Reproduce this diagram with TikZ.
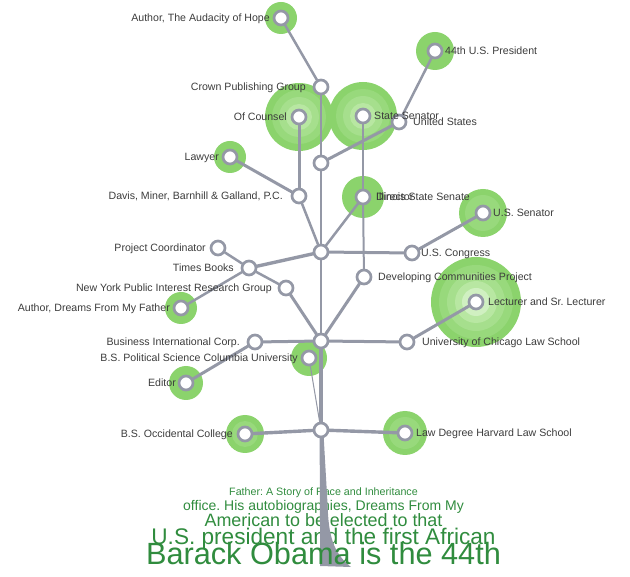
\documentclass[tikz,border=0pt]{standalone}
\usepackage{fontspec}
\setmainfont{Liberation Sans}
\usetikzlibrary{calc}
\pgfdeclarelayer{bg}
\pgfsetlayers{bg,main}
\frenchspacing
\definecolor{edgegray}{RGB}{148,152,166}
\definecolor{lblgray}{RGB}{60,60,60}
\definecolor{txtgreen}{RGB}{48,140,62}
\definecolor{haloA}{RGB}{139,211,108}
\definecolor{haloB}{RGB}{152,217,124}
\definecolor{haloC}{RGB}{166,223,141}
\definecolor{haloD}{RGB}{184,231,162}
\definecolor{haloE}{RGB}{208,240,193}
\tikzset{
  dot/.style={circle, draw=edgegray, fill=white, line width=2.7pt, minimum size=14pt, inner sep=0pt},
  lbl/.style={text=lblgray, inner sep=0pt, font=\fontsize{10.6}{12}\selectfont},
  lblL/.style={lbl, anchor=base east},
  lblR/.style={lbl, anchor=base west},
  ew/.style={draw=edgegray, line width=#1, line cap=round},
  big/.style={text=txtgreen, inner sep=0pt, anchor=base, font=\fontsize{#1}{#1}\selectfont}
}
\begin{document}
\begin{tikzpicture}[x=1pt,y=-1pt]
\useasboundingbox (0,0) rectangle (630,577);
% bottom text (lines under the trunk)
\node[big=10.7] (t1) at (323.5,496) {Father: A Story of Race and Inheritance};
\node[big=14] (t2) at (323.5,511) {office. His autobiographies, Dreams From My};
\node[big=17.9] (t3) at (323.5,527) {American to be elected to that};
\node[big=22.6] (t4) at (323.5,544) {U.S. president and the first African};
% trunk
\fill[edgegray] (319.6,432) -- (320.2,566) -- (351,567)
  .. controls (333,553) and (328.5,535) .. (327.6,505) -- (323.4,432) -- cycle;
\node[big=30.7] (t5) at (323.5,565) {Barack Obama is the 44th};
% nodes
\node[dot] (aud) at (281,18) {};
\node[dot] (pres) at (435,51) {};
\node[dot] (crown) at (321,87) {};
\node[dot] (ofc) at (299,117) {};
\node[dot] (ssen) at (363,116) {};
\node[dot] (us) at (399,122) {};
\node[dot] (jt) at (321,163) {};
\node[dot] (lawyer) at (230,157) {};
\node[dot] (davis) at (299,196) {};
\node[dot] (dir) at (363,197) {};
\node[dot] (ussen) at (483,213) {};
\node[dot] (ju) at (321,252) {};
\node[dot] (cong) at (412,253) {};
\node[dot] (dev) at (364,277) {};
\node[dot] (pc) at (218,248) {};
\node[dot] (tb) at (249,268) {};
\node[dot] (nyp) at (286,288) {};
\node[dot] (adf) at (181,308) {};
\node[dot] (lect) at (476,302) {};
\node[dot] (jl) at (321,341) {};
\node[dot] (bic) at (255,342) {};
\node[dot] (uc) at (407,342) {};
\node[dot] (col) at (309,358) {};
\node[dot] (ed) at (186,383) {};
\node[dot] (jb) at (321,430) {};
\node[dot] (occ) at (245,434) {};
\node[dot] (hlaw) at (405,433) {};
% halos
\begin{pgfonlayer}{bg}
\foreach \n/\r in {aud/16, pres/19, lawyer/16, dir/21, adf/16, col/18, ed/17}
  \fill[haloA] (\n.center) circle (\r pt);
\foreach \n/\r in {ussen/24, occ/19, hlaw/22}{
  \fill[haloA] (\n.center) circle (\r pt);
  \fill[haloB] (\n.center) circle (\r pt - 6pt);}
\foreach \n in {ofc, ssen}{
  \fill[haloA] (\n.center) circle (34pt);
  \fill[haloB] (\n.center) circle (27pt);
  \fill[haloC] (\n.center) circle (20pt);
  \fill[haloD] (\n.center) circle (13pt);}
\fill[haloA] (lect.center) circle (45pt);
\fill[haloB] (lect.center) circle (37pt);
\fill[haloC] (lect.center) circle (29pt);
\fill[haloD] (lect.center) circle (21pt);
\fill[haloE] (lect.center) circle (14pt);
\end{pgfonlayer}
% edges
\draw[ew=4pt] (jb) -- (jl);
\draw[ew=3.4pt] (jb) -- (occ);
\draw[ew=3.4pt] (jb) -- (hlaw);
\draw[ew=1pt] (jb) -- (col);
\draw[ew=3pt] (jl) -- (bic);
\draw[ew=3pt] (jl) -- (uc);
\draw[ew=3pt] (jl) -- (nyp);
\draw[ew=3pt] (jl) -- (dev);
\draw[ew=1.5pt] (jl) -- (ju);
\draw[ew=3pt] (bic) -- (ed);
\draw[ew=3pt] (uc) -- (lect);
\draw[ew=3.4pt] (ju) -- (tb);
\draw[ew=3pt] (ju) -- (cong);
\draw[ew=3pt] (cong) -- (ussen);
\draw[ew=2.5pt] (tb) -- (pc);
\draw[ew=2.5pt] (tb) -- (adf);
\draw[ew=2.5pt] (tb) -- (nyp);
\draw[ew=2.5pt] (ju) -- (davis);
\draw[ew=2.5pt] (ju) -- (dir);
\draw[ew=1.5pt] (ju) -- (jt);
\draw[ew=3pt] (davis) -- (ofc);
\draw[ew=3pt] (davis) -- (lawyer);
\draw[ew=2.5pt] (dir) -- (ssen);
\draw[ew=2pt] (dir) -- (dev);
\draw[ew=3pt] (jt) -- (us);
\draw[ew=2.5pt] (us) -- (pres);
\draw[ew=1.5pt] (jt) -- (crown);
\draw[ew=2.5pt] (crown) -- (aud);
% labels
\node[lblL] (laud) at ($(aud)+(-11,3.7)$) {Author, The Audacity of Hope};
\node[lblR] (lpres) at ($(pres)+(10,3.7)$) {44th U.S. President};
\node[lblL] (lcrown) at ($(crown)+(-15,3.7)$) {Crown Publishing Group};
\node[lblL] (lofc) at ($(ofc)+(-12,3.7)$) {Of Counsel};
\node[lblR] (lssen) at ($(ssen)+(11,3.7)$) {State Senator};
\node[lblR] (lus) at ($(us)+(14,3.7)$) {United States};
\node[lblL] (llawyer) at ($(lawyer)+(-11,3.7)$) {Lawyer};
\node[lblL] (ldavis) at ($(davis)+(-16,3.7)$) {Davis, Miner, Barnhill \& Galland, P.C.};
\node[lblR] (ldir) at ($(dir)+(13,3.7)$) {Director};
\node[lblR] (lils) at ($(dir)+(13,3.7)$) {Illinois State Senate};
\node[lblR] (lussen) at ($(ussen)+(10,3.7)$) {U.S. Senator};
\node[lblR] (lcong) at ($(cong)+(9,3.7)$) {U.S. Congress};
\node[lblR] (ldev) at ($(dev)+(14,3.7)$) {Developing Communities Project};
\node[lblL] (lpc) at ($(pc)+(-12,3.7)$) {Project Coordinator};
\node[lblL] (ltb) at ($(tb)+(-15,3.7)$) {Times Books};
\node[lblL] (lnyp) at ($(nyp)+(-14,3.7)$) {New York Public Interest Research Group};
\node[lblL] (ladf) at ($(adf)+(-11,3.7)$) {Author, Dreams From My Father};
\node[lblR] (llect) at ($(lect)+(12,3.7)$) {Lecturer and Sr. Lecturer};
\node[lblL] (lbic) at ($(bic)+(-15,3.7)$) {Business International Corp.};
\node[lblR] (luc) at ($(uc)+(15,3.7)$) {University of Chicago Law School};
\node[lblL] (lcol) at ($(col)+(-11,3.7)$) {B.S. Political Science Columbia University};
\node[lblL] (led) at ($(ed)+(-10,3.7)$) {Editor};
\node[lblL] (locc) at ($(occ)+(-12,3.7)$) {B.S. Occidental College};
\node[lblR] (lhlaw) at ($(hlaw)+(11,3.7)$) {Law Degree Harvard Law School};
\end{tikzpicture}
\end{document}
